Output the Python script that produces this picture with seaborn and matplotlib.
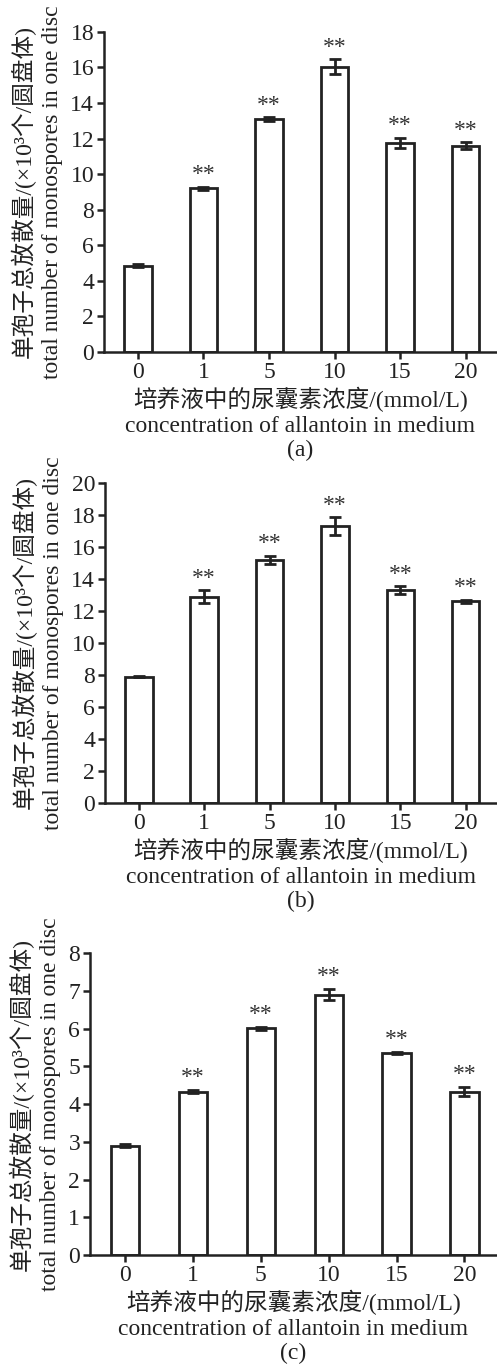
import numpy as np
import pandas as pd
import matplotlib
matplotlib.use("Agg")
import matplotlib.pyplot as plt
import seaborn as sns

sns.set_style("ticks")
plt.rcParams['font.family'] = ['Liberation Serif', 'Noto Sans CJK SC']
plt.rcParams['font.size'] = 17
plt.rcParams['axes.unicode_minus'] = False

conc = ['0', '1', '5', '10', '15', '20']

# panel (a)
mean_a = [4.85, 9.2, 13.1, 16.05, 11.75, 11.6]
err_a = [0.1, 0.1, 0.1, 0.4, 0.3, 0.2]
# panel (b)
mean_b = [7.9, 12.9, 15.2, 17.3, 13.3, 12.6]
err_b = [0.05, 0.4, 0.25, 0.55, 0.25, 0.1]
# panel (c)
mean_c = [2.9, 4.33, 6.01, 6.9, 5.36, 4.33]
err_c = [0.03, 0.05, 0.04, 0.15, 0.03, 0.13]

ylims = [18, 20, 8]
ysteps = [2, 2, 1]
tags = ['(a)', '(b)', '(c)']

ylab = '单孢子总放散量/(×10³个/圆盘体)\ntotal number of monospores in one disc'
xlab = '培养液中的尿囊素浓度/(mmol/L)\nconcentration of allantoin in medium'

ink = '#222222'
fig = plt.figure(figsize=(4.97, 13.64), dpi=100)

# axes rectangles [left, bottom, width, height]
rects = [[0.209, 0.742, 0.791, 0.2346],
         [0.211, 0.4113, 0.789, 0.2346],
         [0.181, 0.0799, 0.819, 0.2214]]

for k, (m, e) in enumerate([(mean_a, err_a), (mean_b, err_b), (mean_c, err_c)]):
    ax = fig.add_axes(rects[k])
    df = pd.DataFrame({'conc': conc, 'val': m})
    sns.barplot(data=df, x='conc', y='val', ax=ax, color='white',
                edgecolor=ink, linewidth=2, width=0.42, errorbar=None)
    ax.errorbar(np.arange(len(conc)), m, yerr=e, fmt='none', ecolor=ink,
                elinewidth=2, capsize=4, capthick=2)
    for i in range(len(conc)):
        if i == 0:
            continue
        ax.annotate('**', (i, m[i] + e[i]), xytext=(0, 1), textcoords='offset points',
                    ha='center', va='bottom', fontsize=17, color='#333333')
    ax.set_ylim(0, ylims[k])
    ax.set_xlim(-0.52, 5.48)
    ax.set_yticks(np.arange(0, ylims[k] + 0.01, ysteps[k]))
    sns.despine(ax=ax)
    for s in ['left', 'bottom']:
        ax.spines[s].set_linewidth(1.8)
        ax.spines[s].set_color(ink)
    ax.tick_params(axis='both', direction='out', length=5, width=1.8, color=ink,
                   labelsize=17, labelcolor='#222222', pad=2)
    ax.set_ylabel(ylab, fontsize=17, linespacing=1.4, labelpad=5, color='#222222')
    ax.set_xlabel(xlab + '\n' + tags[k], fontsize=17, linespacing=1.22,
                  labelpad=3, color='#222222')

fig.savefig('out.png', dpi=100)
